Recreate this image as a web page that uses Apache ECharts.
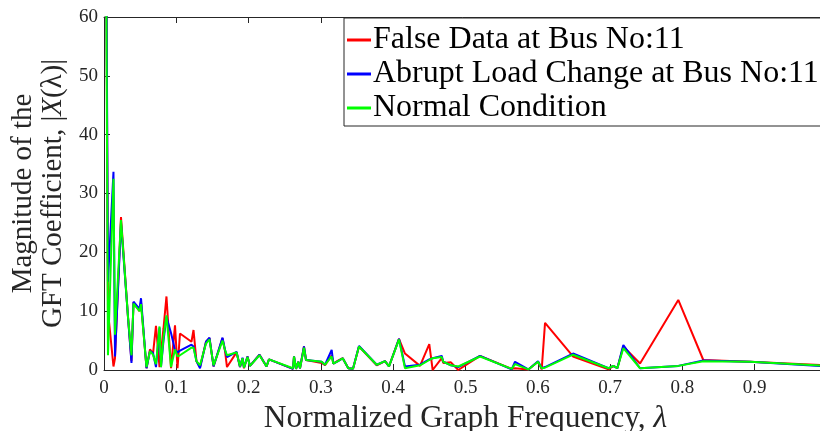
<!DOCTYPE html>
<html>
<head>
<meta charset="utf-8">
<script src="https://cdn.jsdelivr.net/npm/echarts@6/dist/echarts.min.js"></script>
<style>
html,body{margin:0;padding:0;background:#fff;}
#c{width:820px;height:431px;}
</style>
</head>
<body>
<div id="c"></div>
<script>
// Normalized graph frequencies (shared by all three series)
const freq = [0, 0.0055, 0.0131, 0.0152, 0.0235, 0.0332, 0.0380, 0.0408, 0.0491, 0.0512,
  0.0588, 0.0636, 0.0678, 0.0719, 0.0768, 0.0788, 0.0823, 0.0864, 0.0927, 0.0982,
  0.1017, 0.1051, 0.1210, 0.1238, 0.1279, 0.1328, 0.1411, 0.1459, 0.1515, 0.1639,
  0.1674, 0.1701, 0.1833, 0.1881, 0.1916, 0.1936, 0.1985, 0.2019, 0.2151, 0.2248,
  0.2282, 0.2614, 0.2628, 0.2656, 0.2687, 0.2711, 0.2766, 0.2794, 0.3011, 0.3057,
  0.3149, 0.3172, 0.3237, 0.3302, 0.3379, 0.3444, 0.3527, 0.3772, 0.3887, 0.3942,
  0.4080, 0.4163, 0.4371, 0.4499, 0.4546, 0.4671, 0.4693, 0.4799, 0.4900, 0.5201,
  0.5639, 0.5685, 0.5869, 0.6003, 0.6054, 0.6100, 0.6487, 0.6978, 0.7044, 0.7100,
  0.7183, 0.7414, 0.7943, 0.8289, 0.8935, 1.0];

const falseData = [150, 10, 0.6, 2.0, 26, 9, 1.5, 11.5, 10, 11.5,
  0.3, 3.5, 2.8, 7.5, 0.5, 3.0, 7.1, 12.5, 0.3, 7.6,
  0.3, 6.2, 4.8, 6.8, 1.5, 0.5, 4.8, 5.4, 0.6, 5.4,
  3.2, 0.5, 3.0, 0.5, 2.0, 0.3, 2.3, 0.7, 2.6, 0.6,
  1.8, 0.2, 2.3, 0.2, 1.4, 0.3, 4.0, 1.7, 1.2, 0.8,
  2.5, 1.1, 1.6, 2.0, 0.3, 0.2, 4.0, 0.8, 1.5, 0.6,
  5.3, 2.8, 0.7, 4.4, 0.0, 2.0, 1.2, 1.3, 0.0, 2.4,
  0.2, 0.3, 0.1, 1.4, 0.1, 8.0, 2.3, 0.1, 0.7, 0.3,
  4.0, 1.1, 11.9, 1.7, 1.4, 0.8];

const abruptLoad = [150, 15, 33.7, 2.3, 25, 9, 1.2, 11.6, 10.4, 12.2,
  0.3, 3.2, 2.9, 0.5, 7.2, 0.5, 5.0, 9.0, 6.3, 3.4,
  3.0, 3.3, 4.3, 4.0, 1.5, 0.3, 4.8, 5.5, 0.6, 5.5,
  3.4, 2.2, 3.1, 0.5, 2.1, 0.4, 2.3, 0.7, 2.6, 0.6,
  1.8, 0.2, 2.3, 0.2, 1.4, 0.3, 4.0, 1.7, 1.4, 0.9,
  3.4, 1.1, 1.5, 2.0, 0.3, 0.2, 4.1, 0.9, 1.5, 0.6,
  5.3, 0.6, 0.9, 1.8, 2.0, 2.4, 1.4, 0.8, 0.5, 2.4,
  0.1, 1.4, 0.1, 1.5, 0.3, 0.5, 2.8, 0.3, 0.7, 0.3,
  4.25, 0.3, 0.7, 1.6, 1.4, 0.6];

const normal = [150, 2.5, 32.5, 6.0, 25.5, 9, 2.5, 11.3, 10, 11.2,
  0.5, 3.2, 2.6, 1.0, 7.4, 0.5, 5.5, 9.3, 0.5, 3.5,
  2.3, 2.5, 3.8, 3.8, 1.5, 0.8, 4.5, 5.2, 0.8, 5.0,
  3.4, 2.5, 3.0, 0.6, 2.0, 0.4, 2.2, 0.7, 2.5, 0.6,
  1.8, 0.3, 2.3, 0.2, 1.4, 0.3, 3.8, 1.7, 1.4, 0.9,
  2.3, 1.1, 1.5, 2.0, 0.3, 0.2, 4.0, 0.9, 1.5, 0.6,
  5.2, 0.3, 0.8, 1.7, 2.0, 2.2, 1.4, 0.8, 0.6, 2.3,
  0.2, 1.0, 0.1, 1.4, 0.3, 0.4, 2.6, 0.3, 0.7, 0.3,
  3.7, 0.3, 0.7, 1.5, 1.4, 0.7];

const seriesNames = ['False Data at Bus No:11', 'Abrupt Load Change at Bus No:11', 'Normal Condition'];
const seriesColors = ['#ff0000', '#0000ff', '#00ff00'];
const xTicks = [0, 0.1, 0.2, 0.3, 0.4, 0.5, 0.6, 0.7, 0.8, 0.9, 1];
const yTicks = [0, 10, 20, 30, 40, 50, 60];

const FONT = '"Liberation Serif", "DejaVu Serif", serif';
const AX = '#262626';

function pairs(ys) { return freq.map((f, i) => [f, ys[i]]); }
const allSeries = [falseData, abruptLoad, normal];

const chart = echarts.init(document.getElementById('c'), null, {renderer: 'canvas'});
chart.setOption({
  animation: false,
  backgroundColor: '#fff',
  grid: {left: 104, top: 17, right: -7, bottom: 61, containLabel: false, outerBoundsMode: 'none'},
  legend: {
    orient: 'vertical',
    left: 344, top: 18,
    itemWidth: 24, itemHeight: 3, itemGap: 0,
    icon: 'rect',
    padding: [5, 12, 1, 3],
    borderColor: AX, borderWidth: 1,
    backgroundColor: '#fff',
    textStyle: {fontFamily: FONT, fontSize: 32, color: '#000', padding: [0, 0, 0, -3], lineHeight: 34},
    data: seriesNames
  },
  xAxis: [{
    type: 'value', min: 0, max: 1, interval: 0.1,
    name: 'Normalized Graph Frequency, {it|λ}',
    nameLocation: 'middle', nameGap: 30,
    nameTextStyle: {fontFamily: FONT, fontSize: 31.5, color: '#262626',
      rich: {it: {fontFamily: FONT, fontSize: 31.5, fontStyle: 'italic', color: '#262626'}}},
    axisLine: {show: true, lineStyle: {color: AX, width: 1}},
    axisTick: {show: true, inside: true, length: 6, lineStyle: {color: AX}},
    axisLabel: {fontFamily: FONT, fontSize: 19, color: '#262626', margin: 9,
      formatter: v => (xTicks.includes(Math.round(v*10)/10) ? (v === 0 ? '0' : (v === 1 ? '1' : v.toFixed(1))) : '')},
    splitLine: {show: false}
  }, {
    type: 'value', min: 0, max: 1, interval: 0.1, position: 'top',
    axisLine: {show: true, onZero: false, lineStyle: {color: AX, width: 1}},
    axisTick: {show: true, inside: true, length: 6, lineStyle: {color: AX}},
    axisLabel: {show: false}, splitLine: {show: false}
  }],
  yAxis: [{
    type: 'value', min: 0, max: 60, interval: 10,
    name: 'Magnitude of the\nGFT Coefficient, |{it|X}(λ)|',
    nameLocation: 'middle', nameGap: 32,
    nameTextStyle: {fontFamily: FONT, fontSize: 29, color: '#262626', lineHeight: 30,
      rich: {it: {fontFamily: FONT, fontSize: 29, fontStyle: 'italic', color: '#262626', lineHeight: 30}}},
    axisLine: {show: true, lineStyle: {color: AX, width: 1}},
    axisTick: {show: true, inside: true, length: 6, lineStyle: {color: AX}},
    axisLabel: {fontFamily: FONT, fontSize: 19, color: '#262626', margin: 6,
      formatter: v => (yTicks.includes(v) ? String(v) : '')},
    splitLine: {show: false}
  }],
  series: allSeries.map((ys, i) => ({
    name: seriesNames[i],
    type: 'line',
    data: pairs(ys),
    showSymbol: false, symbol: 'none',
    clip: true,
    lineStyle: {color: seriesColors[i], width: 2},
    itemStyle: {color: seriesColors[i]},
    z: 2 + i
  }))
});
</script>
</body>
</html>
